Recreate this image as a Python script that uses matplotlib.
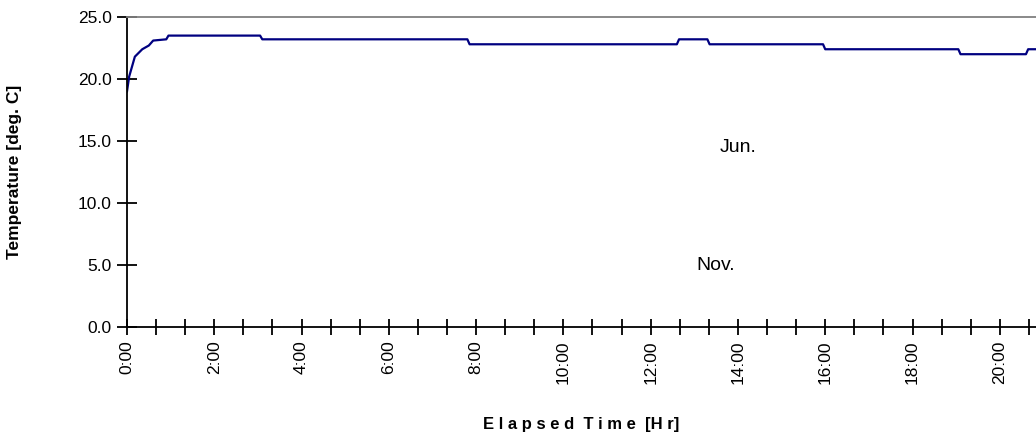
import matplotlib
matplotlib.use('Agg')
import numpy as np
from matplotlib import pyplot as plt

plt.rcParams['font.family'] = ['Liberation Sans', 'DejaVu Sans']

# elapsed hours / temperature (deg C)
hours = [0.0, 0.05, 0.18, 0.35, 0.5, 0.6, 0.9, 0.95, 3.05, 3.1, 7.8, 7.85, 12.6, 12.65,
         13.3, 13.35, 15.95, 16.0, 19.05, 19.1, 20.6, 20.65, 20.9]
temps = [19.0, 20.2, 21.8, 22.4, 22.7, 23.1, 23.2, 23.5, 23.5, 23.2, 23.2, 22.8, 22.8, 23.2,
         23.2, 22.8, 22.8, 22.4, 22.4, 22.0, 22.0, 22.4, 22.4]
tick_labels = ['%d:00' % h for h in range(0, 22, 2)]

fig = plt.figure(figsize=(10.36, 4.36), dpi=100)
ax = fig.add_axes([127 / 1036, 1 - 327 / 436, 1 - 127 / 1036, 310 / 436])
ax.plot(hours, temps, color='#000080', lw=1.6)

ax.set_xlim(0, 20.83)
ax.set_ylim(0, 25)
ax.set_yticks(np.arange(0, 25.1, 5))
ax.set_yticklabels(['%.1f' % v for v in np.arange(0, 25.1, 5)], fontsize=12.5)
ax.set_xticks(np.arange(0, 21, 2 / 3), minor=True)
ax.set_xticks(range(0, 21, 2))
ax.set_xticklabels(tick_labels, rotation=90, fontsize=12.5)
ax.tick_params(axis='x', which='both', direction='inout', length=11, width=1.3, pad=4)
ax.tick_params(axis='y', direction='inout', length=14, width=1.3, pad=4)
ax.spines['right'].set_visible(False)
ax.spines['top'].set_color('gray')
ax.spines['top'].set_linewidth(1.3)
ax.spines['left'].set_linewidth(1.3)
ax.spines['bottom'].set_linewidth(1.3)

ax.text(14.0, 14.5, 'Jun.', fontsize=14, ha='center', va='center')
ax.text(13.5, 5.0, 'Nov.', fontsize=14, ha='center', va='center')

ax.set_xlabel('E l a p s e d  T i m e  [H r]', fontsize=12, fontweight='bold', labelpad=24)
ax.set_ylabel('Temperature [deg. C]', fontsize=12.5, fontweight='bold', labelpad=40)

plt.savefig('out.png', dpi=100)
